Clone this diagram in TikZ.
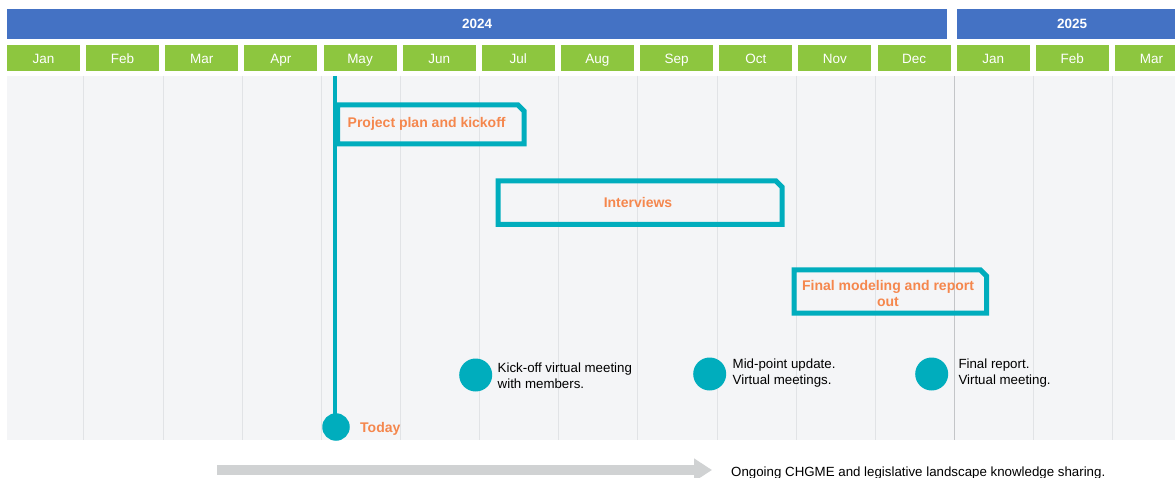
\documentclass[tikz,border=0pt]{standalone}
\usepackage{fontspec}
\setmainfont{Liberation Sans}
\usetikzlibrary{arrows.meta}
\definecolor{yearblue}{HTML}{4472C4}
\definecolor{monthgreen}{HTML}{8DC63F}
\definecolor{teal}{HTML}{00ADBD}
\definecolor{orangetxt}{HTML}{F5874D}
\definecolor{panel}{HTML}{F4F5F7}
\definecolor{gridc}{HTML}{E1E3E6}
\definecolor{yeargrid}{HTML}{C3C5C8}
\definecolor{arrowgray}{HTML}{D0D2D3}
\begin{document}
\begin{tikzpicture}[x=1pt,y=-1pt,
  yearbar/.style={fill=yearblue, text=white, inner sep=0pt, minimum height=30pt,
    anchor=north west, font=\fontsize{13.5}{16}\selectfont\bfseries},
  monthbox/.style={fill=monthgreen, text=white, inner sep=0pt, minimum height=26pt,
    minimum width=73pt, anchor=north west, text height=9.7pt, text depth=0pt,
    font=\fontsize{13.5}{16}\selectfont},
  gridline/.style={draw=gridc, line width=1pt},
  taskbox/.style={draw=teal, line width=5pt, line join=miter},
  tasklabel/.style={text=orangetxt, inner sep=0pt, font=\fontsize{14}{16}\selectfont\bfseries},
  milestone/.style={circle, fill=teal, inner sep=0pt, minimum size=33pt},
  mlabel/.style={inner sep=0pt, align=left, anchor=west, font=\fontsize{13.3}{15.7}\selectfont},
  todayline/.style={draw=teal, line width=3.3pt},
  bigarrow/.style={draw=arrowgray, line width=10pt, -{Triangle[length=18pt,width=22pt]}}
]
\useasboundingbox (0,0) rectangle (1175,478);
\fill[white] (0,0) rectangle (1175,478);

% year bars
\node[yearbar, minimum width=940pt] (y2024) at (7,9) {2024};
\node[yearbar, minimum width=230pt] (y2025) at (957,9) {2025};

% months
\foreach \m [count=\i from 0] in {Jan,Feb,Mar,Apr,May,Jun,Jul,Aug,Sep,Oct,Nov,Dec,Jan,Feb,Mar} {
  \pgfmathsetmacro\xl{6.7+79.15*\i}
  \node[monthbox] (m\i) at (\xl,45) {\m};
}

% panel
\fill[panel] (7,76) rectangle (1175,440);
\foreach \i in {1,...,11,13,14} {
  \pgfmathsetmacro\xg{4.7+79.15*\i}
  \draw[gridline] (\xg,76) -- (\xg,440);
}
\pgfmathsetmacro\xg{4.7+79.15*12}
\draw[draw=yeargrid, line width=1.3pt] (\xg,76) -- (\xg,440);

% today
\coordinate (todaytop) at (335,76);
\node[milestone, minimum size=27.5pt] (today) at (336,427) {};
\draw[todayline] (todaytop) -- (todaytop |- today.center);
\node[tasklabel, anchor=base west] (todaylbl) at (360,432.5) {Today};

% task boxes
\draw[taskbox] (337.5,105) -- (518,105) -- (524,111) -- (524,144) -- (337.5,144) -- cycle;
\node[tasklabel, anchor=base west] (t1) at (347.5,128) {Project plan and kickoff};

\draw[taskbox] (498,181) -- (776,181) -- (782,187) -- (782,224.5) -- (498,224.5) -- cycle;
\node[tasklabel, anchor=base] (t2) at (638,207.7) {Interviews};

\draw[taskbox] (794,270) -- (980.5,270) -- (986.5,276) -- (986.5,313) -- (794,313) -- cycle;
\node[tasklabel, align=center] (t3) at (888,293) {Final modeling and report\\out};

% milestones
\node[milestone] (ms1) at (475.7,375) {};
\node[mlabel] (ms1l) at (497.5,376) {Kick-off virtual meeting\\with members.};
\node[milestone] (ms2) at (709.7,374) {};
\node[mlabel] (ms2l) at (732.5,373) {Mid-point update.\\Virtual meetings.};
\node[milestone] (ms3) at (931.7,374) {};
\node[mlabel] (ms3l) at (958.3,373) {Final report.\\Virtual meeting.};

% ongoing arrow
\node[inner sep=0pt, anchor=base west, font=\fontsize{13.3}{16}\selectfont] (share) at (731,476.5)
  {Ongoing CHGME and legislative landscape knowledge sharing.};
\coordinate (arrowstart) at (217,470);
\draw[bigarrow] (arrowstart) -- ([xshift=-19pt]share.west |- arrowstart);
\end{tikzpicture}
\end{document}
